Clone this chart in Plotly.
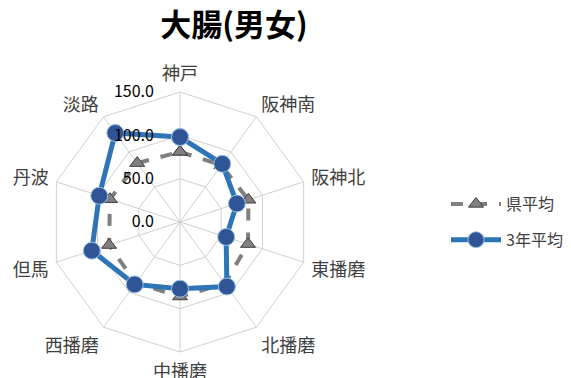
import plotly.graph_objects as go

categories = ["神戸", "阪神南", "阪神北", "東播磨", "北播磨", "中播磨", "西播磨", "但馬", "丹波", "淡路"]
pref_avg = [81, 81, 83, 82.5, 88, 86, 87, 86, 85, 84]
avg3 = [98, 83, 69, 56, 92, 77, 89, 107, 98, 127]
series_names = ["県平均", "3年平均"]
radial_ticks = [0, 50, 100, 150]
radial_ticktext = ["0.0", "50.0", "100.0", "150.0"]
title_text = "大腸(男女)"

W, H = 571, 378
cx, cy, R = 180, 222, 130

font_fam = "Noto Sans CJK JP, Noto Sans, sans-serif"

fig = go.Figure()
fig.add_trace(go.Scatterpolar(
    r=pref_avg + [pref_avg[0]], theta=categories + [categories[0]],
    name=series_names[0], mode="lines+markers", legendgroup="a",
    line=dict(color="#7f7f7f", width=4, dash="dash"),
    marker=dict(symbol="triangle-up", size=13, color="#808080",
                line=dict(color="#404040", width=1)),
))
fig.add_trace(go.Scatterpolar(
    r=avg3 + [avg3[0]], theta=categories + [categories[0]],
    name=series_names[1], mode="lines+markers", legendgroup="b",
    line=dict(color="#2E75B6", width=5),
    marker=dict(symbol="circle", size=17, color="#2F5597",
                line=dict(color="#9DC3E6", width=1)),
))

fig.update_layout(
    width=W, height=H,
    margin=dict(l=0, r=0, t=0, b=0),
    paper_bgcolor="white",
    font=dict(family=font_fam, size=16, color="#404040"),
    title=dict(text="<b>" + title_text + "</b>", x=234 / W, xanchor="center",
               y=1 - 25 / H, yanchor="middle",
               font=dict(size=31, color="#000000", family=font_fam)),
    polar=dict(
        domain=dict(x=[(cx - R) / W, (cx + R) / W], y=[(H - cy - R) / H, (H - cy + R) / H]),
        gridshape="linear",
        bgcolor="white",
        angularaxis=dict(rotation=90, direction="clockwise",
                         gridcolor="#d0d0d0", linecolor="#d0d0d0", linewidth=1,
                         showline=True, ticks="outside", ticklen=4, tickcolor="rgba(0,0,0,0)",
                         tickfont=dict(size=18, color="#404040")),
        radialaxis=dict(range=[0, 150], tickvals=radial_ticks, ticktext=radial_ticktext,
                        angle=90, tickangle=90, side="counterclockwise",
                        showline=False, gridcolor="#d0d0d0",
                        ticks="outside", ticklen=20, tickcolor="rgba(0,0,0,0)",
                        tickfont=dict(size=16, color="#000000")),
    ),
    legend=dict(x=446 / W, y=1 - 187 / H, xanchor="left", yanchor="top",
                font=dict(size=16, color="#404040"), tracegroupgap=12,
                itemwidth=50),
    showlegend=True,
)

fig.write_html("out.html", config={"displayModeBar": False},
               post_script="document.body.style.margin='0';document.body.style.padding='0';")
